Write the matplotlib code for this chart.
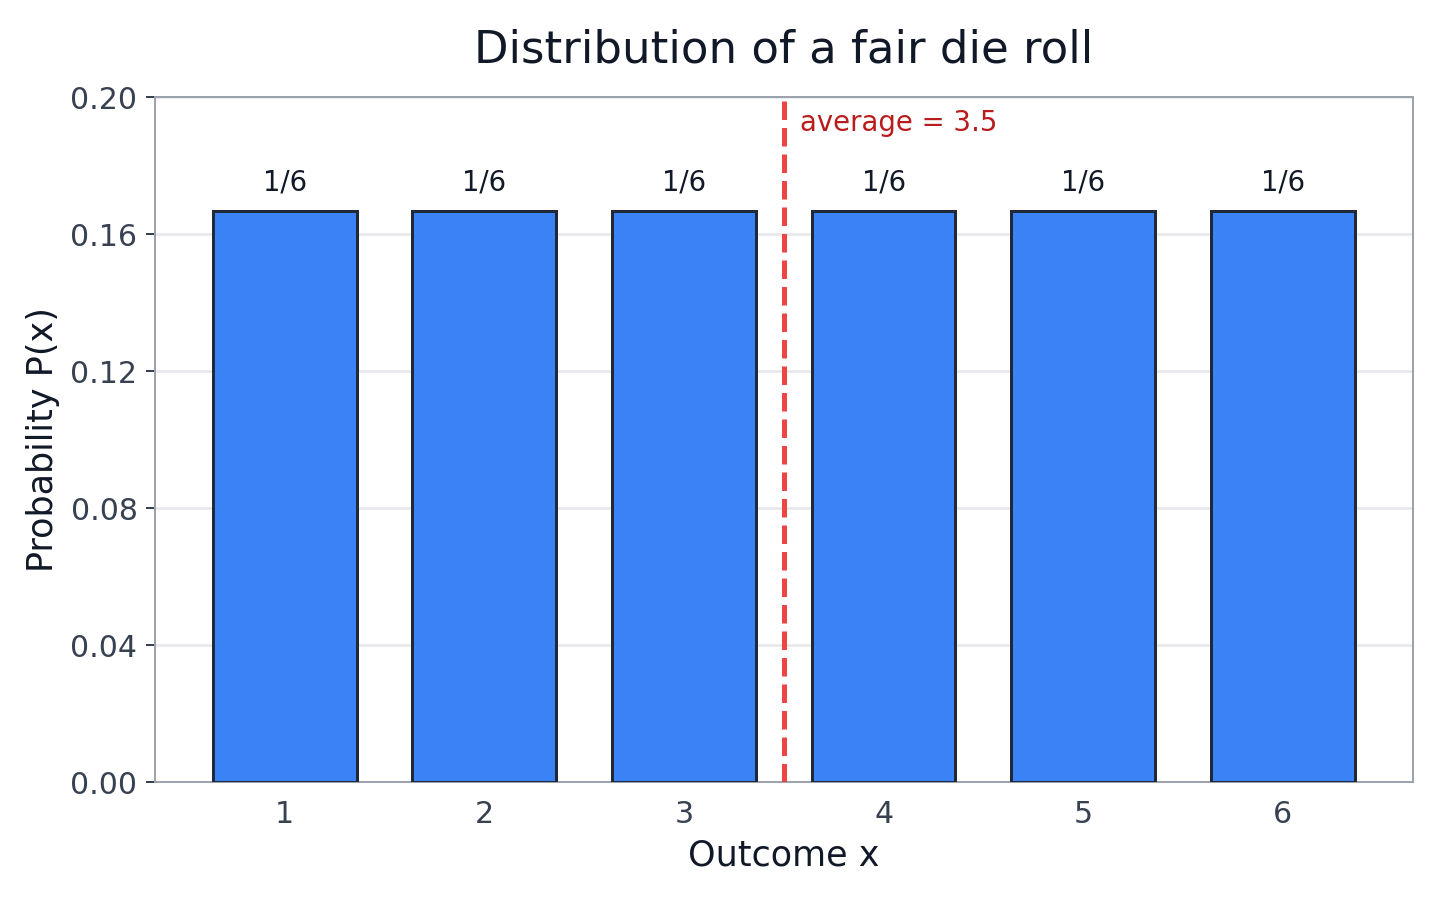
import matplotlib
matplotlib.use("Agg")
import matplotlib.pyplot as plt

outcomes = [1, 2, 3, 4, 5, 6]
probs = [1 / 6] * 6
bar_labels = ["1/6"] * 6
mean_value = 3.5
yticks = [0.00, 0.04, 0.08, 0.12, 0.16, 0.20]

fig, ax = plt.subplots(figsize=(8, 5), dpi=180)
fig.subplots_adjust(left=0.1076, right=0.981, top=0.892, bottom=0.131)

bars = ax.bar(outcomes, probs, width=0.72, color="#3b82f6",
              edgecolor="#1f2937", linewidth=1.2, zorder=3)
for b, lab in zip(bars, bar_labels):
    ax.annotate(lab, (b.get_x() + b.get_width() / 2, b.get_height()),
                xytext=(0, 6), textcoords="offset points",
                ha="center", va="bottom", fontsize=11, color="#111827")

ax.axvline(mean_value, color="#ef4444", linestyle="--", linewidth=2, zorder=4)
ax.text(mean_value + 0.08, 0.1925, f"average = {mean_value}", color="#b91c1c",
        fontsize=11, ha="left", va="center")

ax.set_xlim(0.35, 6.65)
ax.set_ylim(0, 0.2)
ax.set_xticks(outcomes)
ax.set_yticks(yticks)
ax.set_yticklabels([f"{t:.2f}" for t in yticks])
ax.grid(axis="y", color="#e5e7eb", linewidth=1, zorder=0)
ax.tick_params(axis="both", labelsize=12, colors="#374151", length=3.5)
ax.tick_params(axis="x", length=0, pad=7)
for s in ax.spines.values():
    s.set_color("#9ca3af")

ax.set_title("Distribution of a fair die roll", fontsize=18, color="#111827", pad=14)
ax.set_xlabel("Outcome x", fontsize=14, color="#111827")
ax.set_ylabel("Probability P(x)", fontsize=14, color="#111827")

fig.savefig("out.png")
